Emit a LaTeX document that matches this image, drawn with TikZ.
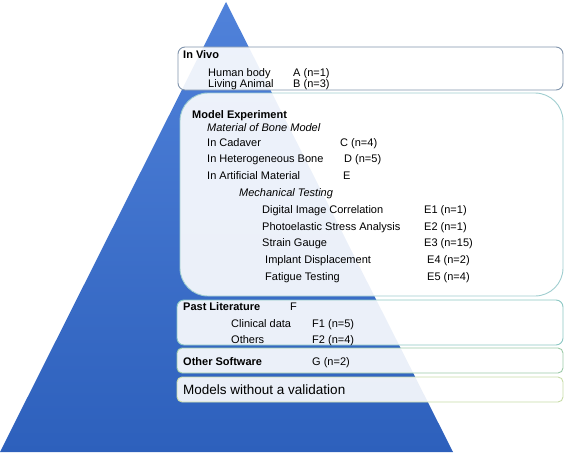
\documentclass[tikz,border=0pt]{standalone}
\usepackage{fontspec}
\setmainfont{Liberation Sans}
\definecolor{pyrtop}{RGB}{80,130,218}
\definecolor{pyrbot}{RGB}{45,96,188}
\definecolor{bvivo}{RGB}{128,148,172}
\definecolor{bme}{RGB}{160,206,208}
\definecolor{bpl}{RGB}{140,200,196}
\definecolor{bos}{RGB}{156,202,168}
\definecolor{bmw}{RGB}{200,220,168}
\begin{document}
\begin{tikzpicture}[x=1pt,y=-1pt,
  txt/.style={anchor=base west, inner sep=0pt, font=\fontsize{11}{13}\selectfont},
  btxt/.style={txt, font=\fontsize{11}{13}\selectfont\bfseries},
  itxt/.style={txt, font=\fontsize{11}{13}\selectfont\itshape},
  bigtxt/.style={txt, font=\fontsize{13.5}{16}\selectfont},
  panel/.style={fill=white, fill opacity=0.9, line width=0.9pt}]
\useasboundingbox (0,0) rectangle (567,452);
% pyramid
\shade[top color=pyrtop, bottom color=pyrbot]
  (226,2) -- (453,452) -- (0,452) -- cycle;
% panels
\draw[panel, draw=bvivo, rounded corners=7pt] (178,47) rectangle (563,90);
\draw[panel, draw=bme, rounded corners=28pt] (180,93) rectangle (563,296);
\draw[panel, draw=bpl, rounded corners=7pt] (177,300) rectangle (563,345);
\draw[panel, draw=bos, rounded corners=5pt] (177,348) rectangle (563,373);
\draw[panel, draw=bmw, rounded corners=5pt] (177,377) rectangle (563,402);
% In Vivo
\node[btxt] (invivo) at (183,59) {In Vivo};
\node[txt] (hb) at (208,76) {Human body};
\node[txt] (hbA) at (293,76) {A (n=1)};
\node[txt] (la) at (208,87) {Living Animal};
\node[txt] (laB) at (293,87) {B (n=3)};
% Model experiment
\node[btxt] (me) at (192,118) {Model Experiment};
\node[itxt] (mbm) at (207,131) {Material of Bone Model};
\node[txt] (cad) at (207,146) {In Cadaver};
\node[txt] (cadC) at (340,146) {C (n=4)};
\node[txt] (het) at (207,162) {In Heterogeneous Bone};
\node[txt] (hetD) at (344,162) {D (n=5)};
\node[txt] (art) at (207,179) {In Artificial Material};
\node[txt] (artE) at (343,179) {E};
\node[itxt] (mt) at (239,196) {Mechanical Testing};
\node[txt] (dic) at (262,213) {Digital Image Correlation};
\node[txt] (dicE) at (424,213) {E1 (n=1)};
\node[txt] (psa) at (262,230) {Photoelastic Stress Analysis};
\node[txt] (psaE) at (424,230) {E2 (n=1)};
\node[txt] (sg) at (262,246) {Strain Gauge};
\node[txt] (sgE) at (424,246) {E3 (n=15)};
\node[txt] (id) at (265,263) {Implant Displacement};
\node[txt] (idE) at (427,263) {E4 (n=2)};
\node[txt] (ft) at (265,280) {Fatigue Testing};
\node[txt] (ftE) at (427,280) {E5 (n=4)};
% Past literature
\node[btxt] (pl) at (183,310) {Past Literature};
\node[txt] (plF) at (290,310) {F};
\node[txt] (cd) at (231,327) {Clinical data};
\node[txt] (cdF) at (312,327) {F1 (n=5)};
\node[txt] (ot) at (231,343) {Others};
\node[txt] (otF) at (312,343) {F2 (n=4)};
% Other software
\node[btxt] (os) at (183,365) {Other Software};
\node[txt] (osG) at (312,365) {G (n=2)};
% Models without validation
\node[bigtxt] (mwv) at (183,394) {Models without a validation};
\end{tikzpicture}
\end{document}
